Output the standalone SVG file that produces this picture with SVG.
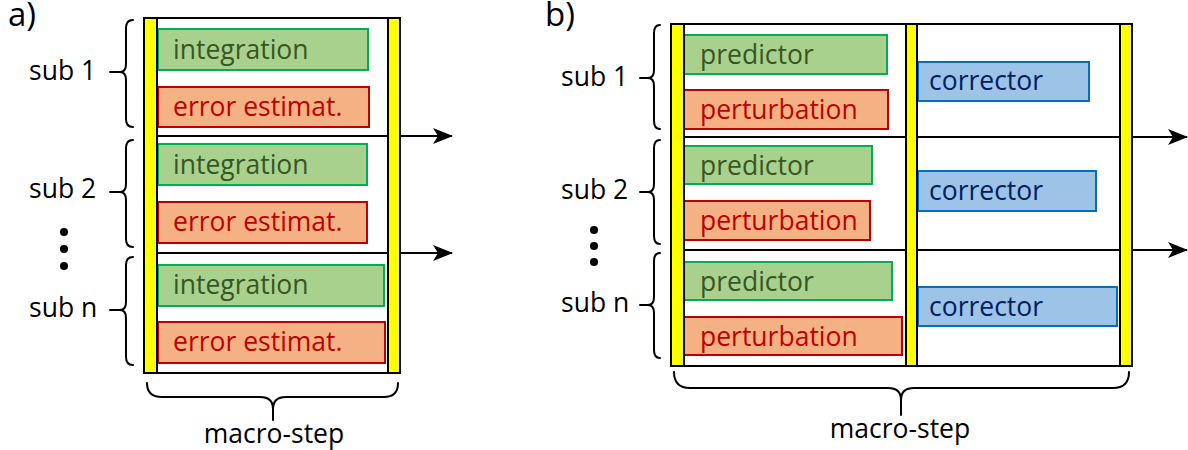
<svg xmlns="http://www.w3.org/2000/svg" width="1188" height="450" viewBox="0 0 1188 450">
  <style>
    text { font-family: "Open Sans", "Noto Sans", "DejaVu Sans", sans-serif; font-size: 26.5px; }
    .lbl { fill: #000000; }
    .panel { font-size: 33px; }
    .frame { fill: #ffffff; stroke: #000000; stroke-width: 2; }
    .bar { fill: #ffff00; stroke: #000000; stroke-width: 2; }
    .line { fill: none; stroke: #000000; stroke-width: 2; }
    .brace { fill: none; stroke: #000000; stroke-width: 2; stroke-linecap: round; stroke-linejoin: round; }
    .g-box { fill: #a9d18e; stroke: #00b050; stroke-width: 2; }
    .g-txt { fill: #375623; }
    .r-box { fill: #f4b183; stroke: #c00000; stroke-width: 2; }
    .r-txt { fill: #c00000; }
    .b-box { fill: #9dc3e6; stroke: #0070c0; stroke-width: 2; }
    .b-txt { fill: #002060; }
    .dot { fill: #000000; }
  </style>
  <defs>
    <marker id="arrowhead" viewBox="0 0 20 16" refX="19" refY="8" markerWidth="20" markerHeight="16" markerUnits="userSpaceOnUse" orient="auto">
      <path d="M20,8 L0,0 L5,8 L0,16 Z" fill="#000000"/>
    </marker>
  </defs>

  <rect width="1188" height="450" fill="#ffffff"/>

  <!-- ===== panel a: integration + error estimation ===== -->
  <g id="panel-a-label"><text class="lbl panel" x="8" y="26">a)</text></g>

  <g id="a-frame">
    <rect class="frame" x="144" y="18" width="256" height="355"/>
    <line class="line" x1="158" y1="136" x2="388" y2="136"/>
    <line class="line" x1="158" y1="253" x2="388" y2="253"/>
  </g>

  <g id="a-int-1"><rect class="g-box" x="158" y="29" width="210" height="41"/><text class="g-txt" x="173" y="59">integration</text></g>
  <g id="a-err-1"><rect class="r-box" x="158" y="87" width="211" height="40"/><text class="r-txt" x="173" y="116">error estimat.</text></g>
  <g id="a-int-2"><rect class="g-box" x="158" y="144" width="209" height="41"/><text class="g-txt" x="173" y="174">integration</text></g>
  <g id="a-err-2"><rect class="r-box" x="158" y="202" width="209" height="41"/><text class="r-txt" x="173" y="231">error estimat.</text></g>
  <g id="a-int-n"><rect class="g-box" x="158" y="265" width="226" height="41"/><text class="g-txt" x="173" y="294">integration</text></g>
  <g id="a-err-n"><rect class="r-box" x="158" y="322" width="227" height="41"/><text class="r-txt" x="173" y="351">error estimat.</text></g>

  <!-- yellow synchronisation bars drawn over the box edges -->
  <g id="a-bar-left"><rect class="bar" x="144" y="18" width="13" height="355"/></g>
  <g id="a-bar-right"><rect class="bar" x="388" y="18" width="12" height="355"/></g>

  <g id="a-sub-1">
    <text class="lbl" x="29" y="80">sub 1</text>
    <path class="brace" d="M133,20 Q126,20 126,28 L126,64 Q126,72 120,72 L110,72 M120,72 Q126,72 126,80 L126,119 Q126,127 133,127"/>
  </g>
  <g id="a-sub-2">
    <text class="lbl" x="29" y="198">sub 2</text>
    <path class="brace" d="M133,140 Q126,140 126,148 L126,184 Q126,192 120,192 L110,192 M120,192 Q126,192 126,200 L126,239 Q126,247 133,247"/>
  </g>
  <g id="a-dots">
    <circle class="dot" cx="64" cy="232" r="4"/>
    <circle class="dot" cx="64" cy="249" r="4"/>
    <circle class="dot" cx="64" cy="266" r="4"/>
  </g>
  <g id="a-sub-n">
    <text class="lbl" x="29" y="317">sub n</text>
    <path class="brace" d="M133,257 Q126,257 126,265 L126,302 Q126,310 120,310 L110,310 M120,310 Q126,310 126,318 L126,357 Q126,365 133,365"/>
  </g>
  <g id="a-macro">
    <path class="brace" d="M147,383 Q147,397 162,397 L260,397 Q273,397 273,409 L273,420 M273,409 Q273,397 286,397 L384,397 Q398,397 398,383"/>
    <text class="lbl" x="274" y="443" text-anchor="middle">macro-step</text>
  </g>

  <!-- ===== panel b: predictor / perturbation / corrector ===== -->
  <g id="panel-b-label"><text class="lbl panel" x="545" y="26">b)</text></g>

  <g id="b-frame">
    <rect class="frame" x="671" y="24" width="461" height="342"/>
    <line class="line" x1="684" y1="137" x2="1120" y2="137"/>
    <line class="line" x1="684" y1="250" x2="1120" y2="250"/>
  </g>

  <g id="b-pred-1"><rect class="g-box" x="684" y="35" width="203" height="39"/><text class="g-txt" x="700" y="64">predictor</text></g>
  <g id="b-pert-1"><rect class="r-box" x="684" y="90" width="204" height="39"/><text class="r-txt" x="700" y="119">perturbation</text></g>
  <g id="b-pred-2"><rect class="g-box" x="684" y="146" width="188" height="38"/><text class="g-txt" x="700" y="175">predictor</text></g>
  <g id="b-pert-2"><rect class="r-box" x="684" y="201" width="186" height="39"/><text class="r-txt" x="700" y="230">perturbation</text></g>
  <g id="b-pred-n"><rect class="g-box" x="684" y="262" width="208" height="38"/><text class="g-txt" x="700" y="291">predictor</text></g>
  <g id="b-pert-n"><rect class="r-box" x="684" y="317" width="218" height="38"/><text class="r-txt" x="700" y="346">perturbation</text></g>

  <g id="b-corr-1"><rect class="b-box" x="918" y="62" width="171" height="39"/><text class="b-txt" x="929" y="90">corrector</text></g>
  <g id="b-corr-2"><rect class="b-box" x="918" y="171" width="178" height="40"/><text class="b-txt" x="929" y="200">corrector</text></g>
  <g id="b-corr-n"><rect class="b-box" x="918" y="287" width="199" height="39"/><text class="b-txt" x="929" y="316">corrector</text></g>

  <!-- yellow synchronisation bars drawn over the box edges -->
  <g id="b-bar-left"><rect class="bar" x="671" y="24" width="13" height="342"/></g>
  <g id="b-bar-mid"><rect class="bar" x="906" y="24" width="11" height="342"/></g>
  <g id="b-bar-right"><rect class="bar" x="1120" y="24" width="12" height="342"/></g>

  <g id="b-sub-1">
    <text class="lbl" x="561" y="86">sub 1</text>
    <path class="brace" d="M660,25 Q654,25 654,33 L654,70 Q654,78 648,78 L640,78 M648,78 Q654,78 654,86 L654,121 Q654,129 660,129"/>
  </g>
  <g id="b-sub-2">
    <text class="lbl" x="561" y="199">sub 2</text>
    <path class="brace" d="M660,140 Q654,140 654,148 L654,184 Q654,192 648,192 L640,192 M648,192 Q654,192 654,200 L654,236 Q654,244 660,244"/>
  </g>
  <g id="b-dots">
    <circle class="dot" cx="594" cy="230" r="4"/>
    <circle class="dot" cx="594" cy="246" r="4"/>
    <circle class="dot" cx="594" cy="262" r="4"/>
  </g>
  <g id="b-sub-n">
    <text class="lbl" x="561" y="312">sub n</text>
    <path class="brace" d="M660,253 Q654,253 654,261 L654,297 Q654,305 648,305 L640,305 M648,305 Q654,305 654,313 L654,350 Q654,358 660,358"/>
  </g>
  <g id="b-macro">
    <path class="brace" d="M674,372 Q674,388 690,388 L888,388 Q901,388 901,400 L901,415 M901,400 Q901,388 914,388 L1113,388 Q1129,388 1129,372"/>
    <text class="lbl" x="900" y="438" text-anchor="middle">macro-step</text>
  </g>

  <!-- hand-over arrows between sub-steps -->
  <g id="connectors">
    <line class="line" x1="401" y1="136" x2="452" y2="136" marker-end="url(#arrowhead)"/>
    <line class="line" x1="401" y1="253" x2="452" y2="253" marker-end="url(#arrowhead)"/>
    <line class="line" x1="1133" y1="137" x2="1187" y2="137" marker-end="url(#arrowhead)"/>
    <line class="line" x1="1133" y1="250" x2="1187" y2="250" marker-end="url(#arrowhead)"/>
  </g>
</svg>
